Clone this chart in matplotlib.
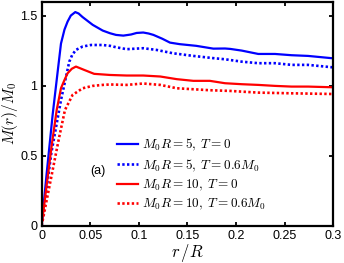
import matplotlib
matplotlib.use('Agg')
import matplotlib.pyplot as plt
from matplotlib import rcParams

rcParams['font.family'] = 'Liberation Sans'
rcParams['mathtext.fontset'] = 'cm'

# M0 R = 5, T = 0
r_b1 = [0, 0.005, 0.0113, 0.0165, 0.0199, 0.0235, 0.0267, 0.030, 0.0346, 0.038, 0.042,
        0.0525, 0.0628, 0.0703, 0.0765, 0.084, 0.092, 0.0977, 0.1045, 0.110, 0.115,
        0.124, 0.132, 0.142, 0.159, 0.1766, 0.1886, 0.194, 0.2058, 0.2228, 0.24,
        0.257, 0.274, 0.298, 0.3]
m_b1 = [0, 0.36, 0.79, 1.10, 1.30, 1.40, 1.457, 1.50, 1.525, 1.515, 1.49,
        1.434, 1.393, 1.374, 1.362, 1.357, 1.365, 1.376, 1.379, 1.372, 1.362,
        1.335, 1.307, 1.296, 1.284, 1.264, 1.265, 1.262, 1.25, 1.226, 1.226,
        1.217, 1.212, 1.196, 1.195]
# M0 R = 5, T = 0.6 M0
r_b2 = [0, 0.01, 0.02, 0.025, 0.0284, 0.0315, 0.0353, 0.0422, 0.0507, 0.0628, 0.0703,
        0.0765, 0.0874, 0.1045, 0.118, 0.135, 0.156, 0.1766, 0.1886, 0.2058, 0.2228,
        0.24, 0.257, 0.274, 0.3]
m_b2 = [0, 0.52, 0.90, 1.06, 1.17, 1.22, 1.255, 1.279, 1.29, 1.29, 1.284,
        1.274, 1.26, 1.267, 1.255, 1.231, 1.212, 1.196, 1.188, 1.171, 1.16,
        1.16, 1.148, 1.148, 1.13]
# M0 R = 10, T = 0
r_r1 = [0, 0.005, 0.0105, 0.0155, 0.0199, 0.0235, 0.0267, 0.031, 0.0353, 0.0438, 0.054,
        0.0703, 0.0874, 0.1045, 0.122, 0.139, 0.156, 0.173, 0.1886, 0.2058, 0.2228,
        0.24, 0.257, 0.274, 0.3]
m_r1 = [0, 0.28, 0.58, 0.826, 0.981, 1.04, 1.088, 1.12, 1.136, 1.112, 1.084,
        1.076, 1.072, 1.072, 1.065, 1.046, 1.034, 1.034, 1.017, 1.01, 1.005,
        0.998, 0.993, 0.993, 0.988]
# M0 R = 10, T = 0.6 M0
r_r2 = [0, 0.006, 0.012, 0.018, 0.024, 0.0319, 0.0422, 0.0525, 0.0628, 0.0703, 0.0874,
        0.1045, 0.122, 0.139, 0.156, 0.173, 0.194, 0.2058, 0.2228, 0.257, 0.3]
m_r2 = [0, 0.21, 0.42, 0.63, 0.826, 0.934, 0.981, 0.998, 1.005, 1.008, 1.005,
        1.015, 1.005, 0.981, 0.974, 0.967, 0.962, 0.957, 0.95, 0.945, 0.94]

labels = [r'$M_0R=5,\;T=0$', r'$M_0R=5,\;T=0.6M_0$',
          r'$M_0R=10,\;T=0$', r'$M_0R=10,\;T=0.6M_0$']

fig = plt.figure(figsize=(3.44, 2.63), dpi=100)
ax = fig.add_axes([0.121, 0.142, 0.848, 0.852])

dots = (0, (0.9, 0.9))
ax.plot(r_b1, m_b1, color='#0000ff', lw=1.6, label=labels[0])
ax.plot(r_b2, m_b2, color='#0000ff', lw=1.9, ls=dots, label=labels[1])
ax.plot(r_r1, m_r1, color='#ff0000', lw=1.6, label=labels[2])
ax.plot(r_r2, m_r2, color='#ff0000', lw=1.9, ls=dots, label=labels[3])

ax.set_xlim(0, 0.3)
ax.set_ylim(0, 1.6)
ax.set_xticks([0, 0.05, 0.1, 0.15, 0.2, 0.25, 0.3])
ax.set_xticklabels(['0', '0.05', '0.1', '0.15', '0.2', '0.25', '0.3'])
ax.set_yticks([0, 0.5, 1, 1.5])
ax.set_yticklabels(['0', '0.5', '1', '1.5'])
ax.tick_params(direction='in', length=3, width=1.3, top=True, right=True,
               labelsize=9, pad=3)
for s in ax.spines.values():
    s.set_linewidth(1.6)

ax.set_xlabel(r'$r\,/R$', fontsize=12, labelpad=0)
ax.set_ylabel(r'$M(r)/M_0$', fontsize=11)
ax.yaxis.set_label_coords(-0.074, 0.5)

ax.text(0.165, 0.23, '(a)', transform=ax.transAxes, fontsize=9)

ax.legend(loc='upper left', bbox_to_anchor=(0.258, 0.395), frameon=False,
          fontsize=9.5, handlelength=1.6, handletextpad=0.3, labelspacing=0.3,
          borderpad=0, borderaxespad=0)

fig.savefig('out.png', dpi=100)
